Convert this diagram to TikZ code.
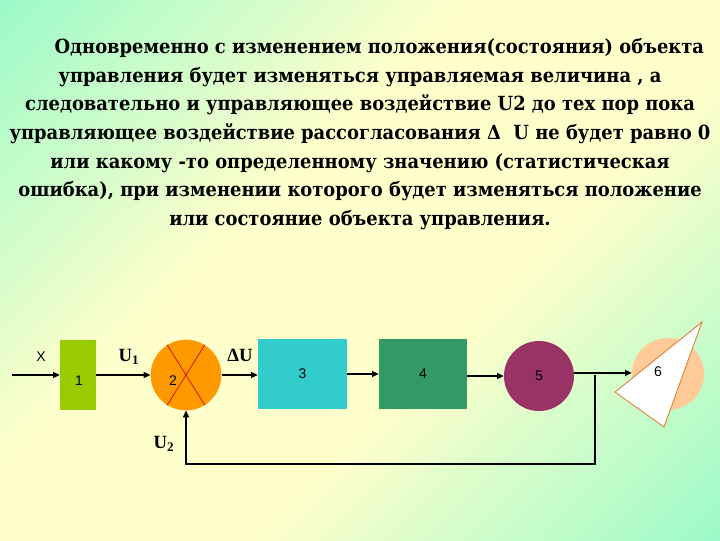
\documentclass[tikz,border=0pt]{standalone}
\usepackage{fontspec}
\setmainfont{DejaVu Serif}
\newfontfamily\titlefont[FakeStretch=0.92]{DejaVu Serif}
\newfontfamily\labsans{Liberation Sans}
\newfontfamily\labserif{Liberation Serif}
\usetikzlibrary{arrows.meta,calc}
\definecolor{mint}{RGB}{155,250,200}
\definecolor{paley}{RGB}{255,255,204}
\definecolor{bone}{RGB}{153,204,0}
\definecolor{btwo}{RGB}{255,153,0}
\definecolor{bthree}{RGB}{51,204,204}
\definecolor{bfour}{RGB}{51,153,102}
\definecolor{bfive}{RGB}{153,51,102}
\definecolor{bsix}{RGB}{255,204,153}
\definecolor{tribord}{RGB}{220,120,40}
\tikzset{
  conn/.style={draw=black, line width=0.9pt},
  arr/.style={conn, -{Triangle[length=5pt,width=4.5pt]}},
  blockbox/.style={draw=none, inner sep=0pt, font=\labsans\fontsize{10.5}{12}\selectfont},
  roundbox/.style={circle, draw=none, inner sep=0pt, font=\labsans\fontsize{10.5}{12}\selectfont},
  sig/.style={font=\labserif\bfseries\fontsize{14}{16}\selectfont, inner sep=0pt},
}
\begin{document}
\begin{tikzpicture}[x=0.75pt,y=-0.75pt]
\useasboundingbox (0,0) rectangle (720,540);
\begin{scope}
\clip (0,0) rectangle (720,540);
\foreach \s in {0,20,...,1260}{
  \pgfmathsetmacro\p{100*(1-abs(\s+10-630)/630)}
  \pgfmathsetmacro\q{min(100,1.35*\p)}
  \fill[paley!\q!mint] (\s,0) -- (\s+21,0) -- (\s+21-560,560) -- (\s-560,560) -- cycle;
}
\end{scope}

\node[font=\titlefont\bfseries\fontsize{14.6}{21.5}\selectfont, align=center, inner sep=0pt] (txt) at (360,134) {%
\hspace*{29pt}Одновременно с изменением положения(состояния) объекта\\
управления будет изменяться управляемая величина , а\\
следовательно и управляющее воздействие U2 до тех пор пока\\
управляющее воздействие рассогласования Δ\ \ U не будет равно 0\\
или какому -то определенному значению (статистическая\\
ошибка), при изменении которого будет изменяться положение\\
или состояние объекта управления.};

% blocks
\node[blockbox, fill=bone, minimum width=27pt, minimum height=52.5pt] (b1) at (78,375) {};
\node[blockbox] at (79,381) {1};
\node[roundbox, fill=btwo, minimum size=53pt] (c2) at (186,375) {};
\draw[red!80!black, line width=0.5pt] (c2.122) -- (c2.-58);
\draw[red!80!black, line width=0.5pt] (c2.58) -- (c2.238);
\node[blockbox] at (173,381) {2};
\node[blockbox, fill=bthree, minimum width=66.75pt, minimum height=52.5pt] (b3) at (302.5,374) {3};
\node[blockbox, fill=bfour, minimum width=66pt, minimum height=52.5pt] (b4) at (423,374) {4};
\node[roundbox, fill=bfive, minimum size=52.5pt] (c5) at (539,376) {5};
\node[roundbox, fill=bsix, minimum size=54pt] (c6) at (668,374) {};
\draw[tribord, fill=white, line width=0.6pt] (702,322) -- (615,392) -- (664,427) -- cycle;
\node[blockbox] at (658,372) {6};

% connectors
\coordinate (xin) at (12,375);
\draw[arr] (xin) -- (b1.west |- xin);
\node[blockbox] at (41,357) {X};
\draw[arr] (b1.east |- c2.west) -- (c2.west);
\node[sig] at (129,357) {U\textsubscript{1}};
\draw[arr] (c2.east) -- (b3.west |- c2.east);
\node[sig] at (240,355) {ΔU};
\draw[arr] (b3.east) -- (b4.west);
\draw[arr] (b4.east |- c5.west) -- (c5.west);
\draw[arr] (c5.5) -- (c5.5 -| c6.west);
\coordinate (fb) at (595,375);
\coordinate (fbc) at (595,464);
\draw[arr] (fb) -- (fbc) -| (c2.south);
\node[sig] at (164,444) {U\textsubscript{2}};
\end{tikzpicture}
\end{document}
